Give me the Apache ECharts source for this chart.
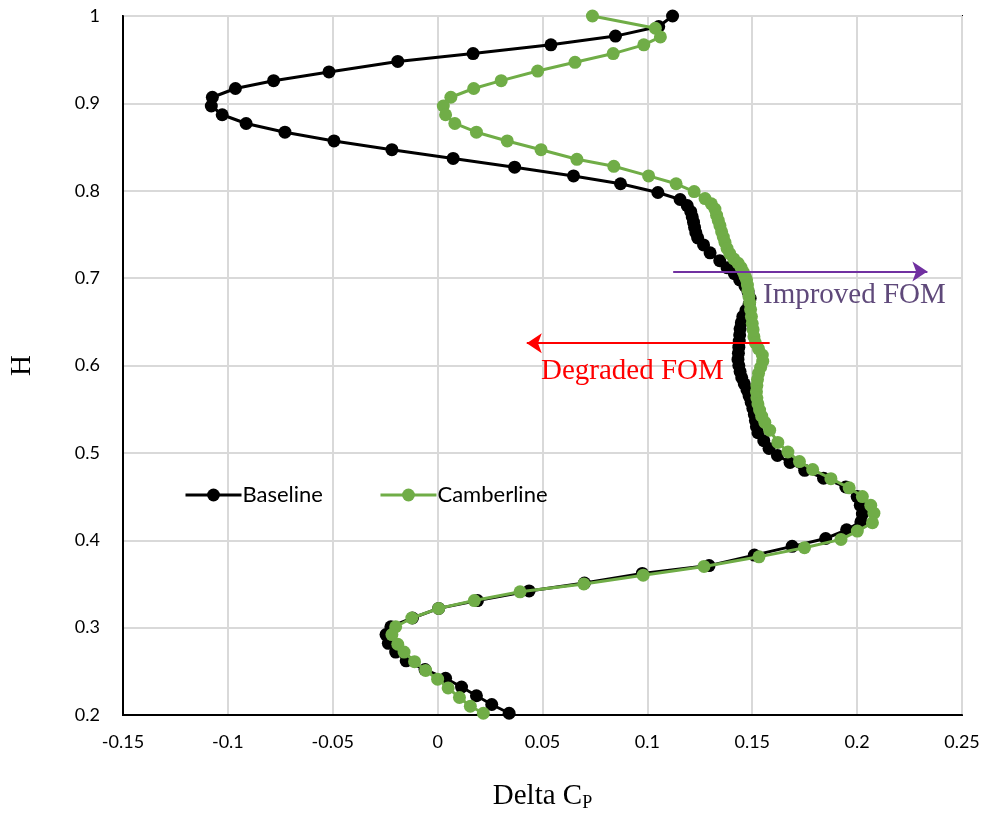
<!DOCTYPE html>
<html>
<head>
<meta charset="utf-8">
<script src="https://cdn.jsdelivr.net/npm/echarts@6/dist/echarts.min.js"></script>
<style>
html,body{margin:0;padding:0;background:#fff;overflow:hidden;width:985px;height:817px;}
#chart{position:absolute;left:0;top:0;width:985px;height:817px;}
</style>
</head>
<body>
<div id="chart"></div>
<script>
// Baseline series: H values and Delta Cp values (top to bottom)
const baselineH = [1.0,0.988,0.977,0.967,0.957,0.948,0.936,0.926,0.917,0.907,0.897,0.887,0.877,0.867,0.857,0.847,0.837,0.827,0.817,0.808,0.798,0.790,0.783,0.776,0.770,0.764,0.758,0.752,0.746,0.738,0.729,0.720,0.712,0.705,0.698,0.691,0.684,0.677,0.670,0.663,0.656,0.649,0.642,0.635,0.628,0.621,0.614,0.607,0.600,0.593,0.586,0.579,0.572,0.565,0.558,0.551,0.544,0.537,0.530,0.523,0.514,0.505,0.497,0.489,0.480,0.471,0.461,0.450,0.440,0.430,0.421,0.412,0.402,0.393,0.383,0.371,0.362,0.351,0.342,0.331,0.322,0.311,0.301,0.292,0.282,0.272,0.262,0.252,0.242,0.232,0.222,0.212,0.202];
const baselineCp = [0.112,0.1054,0.0848,0.054,0.0169,-0.019,-0.0518,-0.0782,-0.0964,-0.1074,-0.1079,-0.1027,-0.0913,-0.0728,-0.0494,-0.0218,0.0074,0.0367,0.0648,0.0872,0.105,0.1156,0.119,0.1207,0.1214,0.1220,0.1225,0.1231,0.1240,0.1268,0.1299,0.1345,0.1380,0.1415,0.1440,0.1465,0.1480,0.1490,0.1485,0.1470,0.1455,0.1448,0.1442,0.1440,0.1438,0.1436,0.1434,0.1432,0.1436,0.1442,0.1450,0.1462,0.1475,0.1485,0.1495,0.1503,0.1510,0.1515,0.1520,0.1527,0.1555,0.1580,0.1620,0.1680,0.1750,0.1840,0.1946,0.2000,0.2015,0.2025,0.2018,0.1950,0.1850,0.1690,0.1510,0.1294,0.0976,0.070,0.0436,0.019,0.0005,-0.012,-0.0223,-0.0246,-0.0235,-0.020,-0.0150,-0.0060,0.0038,0.0114,0.0185,0.0258,0.0341];

// Camberline series
const camberH = [1.0,0.986,0.976,0.967,0.957,0.947,0.937,0.926,0.917,0.907,0.897,0.887,0.877,0.867,0.857,0.847,0.836,0.828,0.817,0.808,0.799,0.791,0.785,0.779,0.772,0.766,0.760,0.753,0.747,0.741,0.734,0.728,0.722,0.717,0.712,0.707,0.702,0.698,0.692,0.686,0.679,0.672,0.664,0.656,0.648,0.641,0.633,0.626,0.619,0.612,0.605,0.598,0.591,0.584,0.577,0.570,0.563,0.556,0.549,0.542,0.535,0.526,0.512,0.501,0.490,0.481,0.4705,0.460,0.450,0.440,0.431,0.420,0.4105,0.401,0.3915,0.381,0.370,0.360,0.350,0.341,0.331,0.322,0.311,0.301,0.292,0.281,0.272,0.261,0.251,0.241,0.231,0.220,0.210,0.202];
const camberCp = [0.0738,0.1038,0.1062,0.0983,0.0837,0.0655,0.0477,0.0303,0.0172,0.0063,0.0027,0.0038,0.0082,0.0185,0.0332,0.0493,0.0664,0.084,0.1006,0.1137,0.1223,0.1275,0.1305,0.1322,0.1330,0.1338,0.1346,0.1354,0.1362,0.1370,0.1380,0.1393,0.1412,0.1433,0.1447,0.1457,0.1466,0.1473,0.1477,0.1480,0.1484,0.1488,0.1492,0.1496,0.1500,0.1504,0.1508,0.1515,0.1530,0.1548,0.1550,0.1540,0.1530,0.1525,0.1522,0.1520,0.1522,0.1527,0.1535,0.1545,0.1560,0.1583,0.1622,0.1670,0.1725,0.1788,0.1875,0.1962,0.2025,0.2065,0.2080,0.2073,0.2001,0.1923,0.1749,0.1532,0.127,0.098,0.0697,0.0393,0.0175,0.0005,-0.0123,-0.02,-0.0218,-0.019,-0.016,-0.011,-0.0057,0.0,0.005,0.0104,0.0156,0.0218];

const seriesNames = ['Baseline','Camberline'];
// Annotation arrows (data coordinates): [x0, x1, H]
const improvedArrow = [0.1123, 0.2335, 0.7075];
const degradedArrow = [0.1583, 0.0425, 0.6256];

const pair = (xs, ys) => xs.map((x, i) => [x, ys[i]]);

const chart = echarts.init(document.getElementById('chart'), null, {width: 985, height: 817});
const serif = '"Liberation Serif","Times New Roman",serif';
const sans = 'Lato,"Open Sans",sans-serif';

chart.setOption({
  animation: false,
  backgroundColor: '#fff',
  grid: {left: 121, right: 23, top: 16, bottom: 95, show: true, borderColor: '#000', borderWidth: 2, containLabel: false},
  legend: {
    data: seriesNames,
    left: 179, top: 479,
    itemWidth: 56, itemHeight: 16, itemGap: 56,
    lineStyle: {width: 3},
    textStyle: {fontFamily: sans, fontSize: 22, color: '#000', padding: [0,0,0,-4]}
  },
  xAxis: {
    type: 'value', min: -0.15, max: 0.25, interval: 0.05,
    axisLine: {show: true, onZero: false, lineStyle: {color: '#000', width: 2}},
    axisTick: {show: false},
    axisLabel: {fontFamily: sans, fontSize: 18, color: '#000', margin: 18},
    splitLine: {show: true, lineStyle: {color: '#d9d9d9', width: 2}},
    name: '{a|Delta C}{b|P}',
    nameLocation: 'middle', nameGap: 65,
    nameTextStyle: {rich: {
      a: {fontFamily: serif, fontSize: 29, color: '#000'},
      b: {fontFamily: serif, fontSize: 18, color: '#000', padding: [14,0,0,0]}
    }}
  },
  yAxis: {
    type: 'value', min: 0.2, max: 1, interval: 0.1,
    axisLine: {show: true, onZero: false, lineStyle: {color: '#000', width: 2}},
    axisTick: {show: false},
    axisLabel: {fontFamily: sans, fontSize: 18, color: '#000', margin: 23},
    splitLine: {show: true, lineStyle: {color: '#d9d9d9', width: 2}},
    name: 'H', nameLocation: 'middle', nameGap: 86,
    nameTextStyle: {fontFamily: serif, fontSize: 29, color: '#000'}
  },
  series: [
    {
      name: seriesNames[0], type: 'line',
      data: pair(baselineCp, baselineH),
      symbol: 'circle', symbolSize: 13,
      lineStyle: {color: '#000', width: 3},
      itemStyle: {color: '#000'},
      z: 2,
      markLine: {
        silent: true, symbol: ['none', 'arrow'], symbolSize: 15,
        label: {show: false},
        data: [
          [{coord: [improvedArrow[0], improvedArrow[2]], lineStyle: {color: '#7030A0', width: 2, type: 'solid'}, itemStyle: {color: '#7030A0'}},
           {coord: [improvedArrow[1], improvedArrow[2]]}],
          [{coord: [degradedArrow[0], degradedArrow[2]], lineStyle: {color: '#FF0000', width: 2, type: 'solid'}, itemStyle: {color: '#FF0000'}},
           {coord: [degradedArrow[1], degradedArrow[2]]}]
        ]
      }
    },
    {
      name: seriesNames[1], type: 'line',
      data: pair(camberCp, camberH),
      symbol: 'circle', symbolSize: 13,
      lineStyle: {color: '#70AD47', width: 3},
      itemStyle: {color: '#70AD47'},
      z: 3
    }
  ],
  graphic: [
    {type: 'text', left: 763, top: 281, z: 10,
     style: {text: 'Improved FOM', font: '29px ' + serif, fill: '#5F497A'}},
    {type: 'text', left: 541, top: 357, z: 10,
     style: {text: 'Degraded FOM', font: '29px ' + serif, fill: '#FF0000'}}
  ]
});
</script>
</body>
</html>
